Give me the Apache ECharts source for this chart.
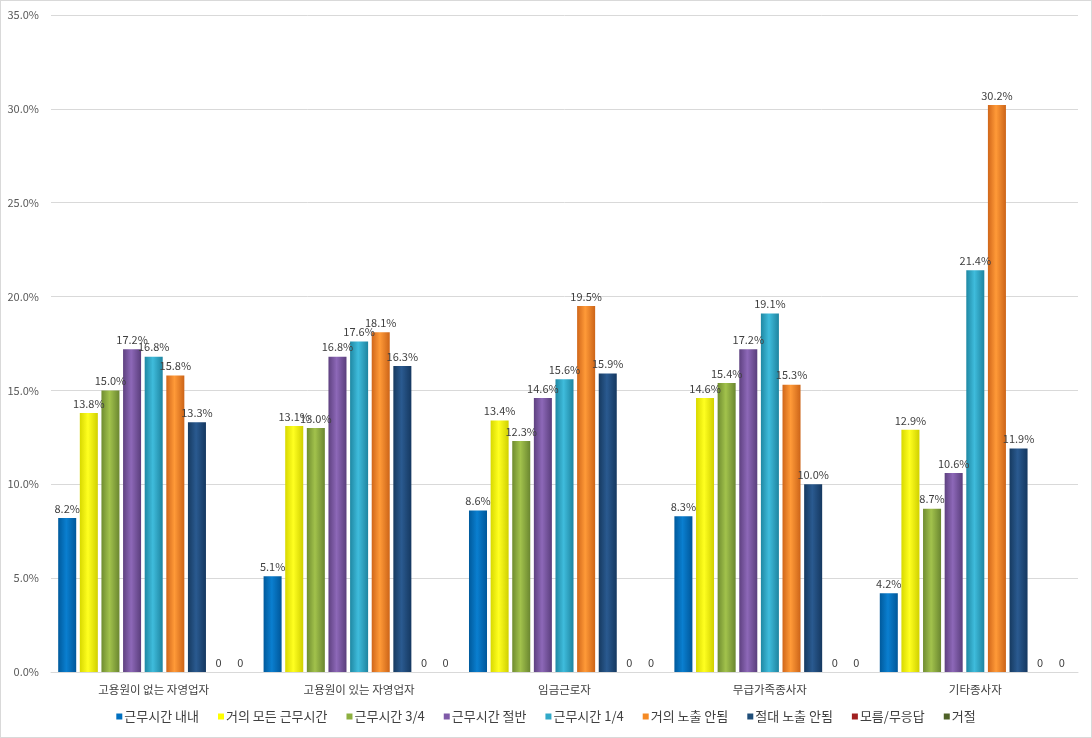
<!DOCTYPE html>
<html><head><meta charset="utf-8">
<script src="https://cdn.jsdelivr.net/npm/echarts@6/dist/echarts.min.js"></script>
<style>html,body{margin:0;padding:0;background:#fff}#c{width:1092px;height:738px;box-sizing:border-box;border:1px solid #d9d9d9}</style>
</head><body><div id="c"></div>
<script>
const categories = ['고용원이 없는 자영업자','고용원이 있는 자영업자','임금근로자','무급가족종사자','기타종사자'];
const seriesNames = ['근무시간 내내','거의 모든 근무시간','근무시간 3/4','근무시간 절반','근무시간 1/4','거의 노출 안됨','절대 노출 안됨','모름/무응답','거절'];
const s1 = [8.2, 5.1, 8.6, 8.3, 4.2];
const s2 = [13.8, 13.1, 13.4, 14.6, 12.9];
const s3 = [15.0, 13.0, 12.3, 15.4, 8.7];
const s4 = [17.2, 16.8, 14.6, 17.2, 10.6];
const s5 = [16.8, 17.6, 15.6, 19.1, 21.4];
const s6 = [15.8, 18.1, 19.5, 15.3, 30.2];
const s7 = [13.3, 16.3, 15.9, 10.0, 11.9];
const s8 = [0, 0, 0, 0, 0];
const s9 = [0, 0, 0, 0, 0];
const yTicks = [0, 5, 10, 15, 20, 25, 30, 35];

const values = [s1,s2,s3,s4,s5,s6,s7,s8,s9];
const colors = [
  ['#005a9c','#0a7fd0','#00579a'],
  ['#d8d800','#ffff20','#d0d000'],
  ['#6f8c30','#a2c24c','#6a8630'],
  ['#5e4180','#8d68b8','#5a3e7c'],
  ['#1f88a3','#3fbcdc','#1e84a0'],
  ['#d0661a','#ff9a38','#cc6418'],
  ['#163a60','#2a5a90','#153860'],
  ['#7a1a18','#b03030','#761816'],
  ['#465a1c','#657e2c','#44581c']
];
const legendColors = ['#0070c0','#ffff00','#8db040','#7f5aa8','#31a9c8','#f58a25','#1f4e79','#a02020','#4f6228'];
const font = '"Noto Sans CJK KR", "Noto Sans", sans-serif';

const chart = echarts.init(document.getElementById('c'));
chart.setOption({
  animation:false,
  backgroundColor:'#ffffff',
  grid:{left:50, right:13, top:14, bottom:65, containLabel:false},
  legend:{
    bottom:9, left:'center', itemWidth:6, itemHeight:6, itemGap:19,
    icon:'rect',
    textStyle:{fontFamily:font, fontSize:13, color:'#404040', padding:[0,0,0,-3]},
    data: seriesNames.map((n,i)=>({name:n, itemStyle:{color:legendColors[i]}}))
  },
  xAxis:{
    type:'category', data:categories,
    axisLine:{lineStyle:{color:'#d9d9d9'}},
    axisTick:{show:false},
    axisLabel:{fontFamily:font, fontSize:11.5, color:'#404040', margin:12}
  },
  yAxis:{
    type:'value', min:0, max:35, interval:5,
    axisLine:{show:false}, axisTick:{show:false},
    splitLine:{lineStyle:{color:'#d9d9d9'}},
    axisLabel:{fontFamily:font, fontSize:11, color:'#595959', margin:12,
      formatter:v=>yTicks.includes(v)? v.toFixed(1)+'%' : ''}
  },
  series: seriesNames.map((n,i)=>({
    name:n, type:'bar', data:values[i],
    barGap:'20%', barCategoryGap:'7%',
    itemStyle:{
      color:{type:'linear',x:0,y:0,x2:1,y2:0,colorStops:[
        {offset:0,color:colors[i][0]},{offset:0.45,color:colors[i][1]},{offset:1,color:colors[i][2]}]},
      borderWidth:0
    },
    label:{show:true, position:'top', distance:4, fontFamily:font, fontSize:11, color:'#404040',
      formatter:p=>p.value===0?'0':p.value.toFixed(1)+'%'}
  }))
});
</script></body></html>
